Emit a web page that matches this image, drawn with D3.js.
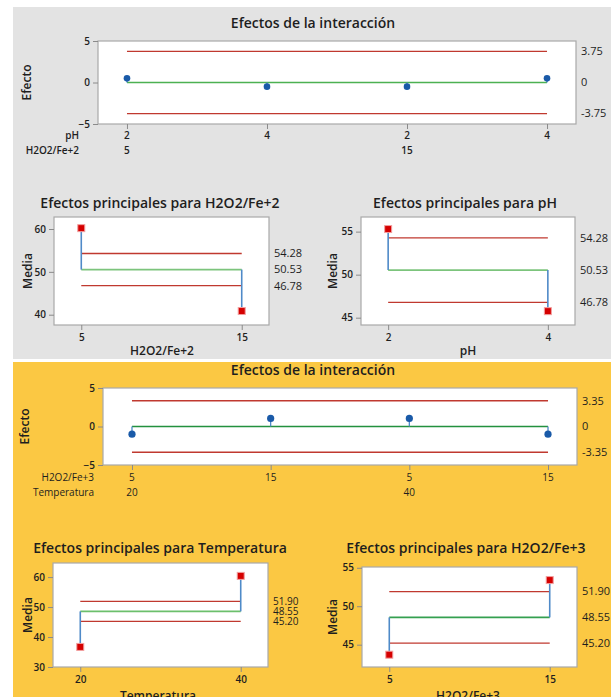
<!DOCTYPE html>
<html>
<head>
<meta charset="utf-8">
<script src="https://cdn.jsdelivr.net/npm/d3@7"></script>
<style>
  body { margin: 0; background: #ffffff; }
  svg { display: block; }
  text { font-family: "Open Sans", "Noto Sans", sans-serif; fill: #1e1e1e; }
</style>
</head>
<body>
<svg id="chart" width="611" height="697"></svg>
<script>
// ---------- data ----------
// Interaction effects, first design (pH x H2O2/Fe+2)
const interA_rowNames = ["pH", "H2O2/Fe+2"];
const interA_pH = ["2", "4", "2", "4"];
const interA_H2O2 = ["5", "", "15", ""];
const interA_effects = [0.5, -0.5, -0.5, 0.5];
const interA_limits = [3.75, 0, -3.75];
const interA_limitLabels = ["3.75", "0", "-3.75"];

// Interaction effects, second design (H2O2/Fe+3 x Temperatura)
const interB_rowNames = ["H2O2/Fe+3", "Temperatura"];
const interB_H2O2 = ["5", "15", "5", "15"];
const interB_Temp = ["20", "", "40", ""];
const interB_effects = [-1.0, 1.05, 1.05, -1.0];
const interB_limits = [3.35, 0, -3.35];
const interB_limitLabels = ["3.35", "0", "-3.35"];

const effectTicks = [-5, 0, 5];

// Main effects, first design
const meanLinesA = [54.28, 50.53, 46.78];
const meanLabelsA = ["54.28", "50.53", "46.78"];
const h2o2Fe2_levels = ["5", "15"];
const h2o2Fe2_means = [60.2, 40.86];
const h2o2Fe2_ticks = [40, 50, 60];
const pH_levels = ["2", "4"];
const pH_means = [55.3, 45.76];
const pH_ticks = [45, 50, 55];

// Main effects, second design
const meanLinesB = [51.90, 48.55, 45.20];
const meanLabelsB = ["51.90", "48.55", "45.20"];
const temp_levels = ["20", "40"];
const temp_means = [36.7, 60.4];
const temp_ticks = [30, 40, 50, 60];
const h2o2Fe3_levels = ["5", "15"];
const h2o2Fe3_means = [43.7, 53.4];
const h2o2Fe3_ticks = [45, 50, 55];

// ---------- drawing ----------
const svg = d3.select("#chart");
const RED = "#c0392f", BLUE_PT = "#1a5aa8", STEM = "#4f8ac8", SQ = "#d50000";

// section backgrounds
svg.append("rect").attr("x", 13).attr("y", 7).attr("width", 598).attr("height", 352).attr("fill", "#e3e3e3");
svg.append("rect").attr("x", 13).attr("y", 362).attr("width", 598).attr("height", 335).attr("fill", "#fbc843");

function yTitle(g, label, x, y) {
  g.append("text")
    .attr("transform", `translate(${x},${y}) rotate(-90)`)
    .attr("text-anchor", "middle").attr("dy", "0.35em")
    .attr("font-size", 12).attr("font-weight", 600)
    .text(label);
}

function drawInteraction(cfg) {
  const g = svg.append("g");
  const b = cfg.box;
  g.append("text").attr("x", cfg.titleX).attr("y", cfg.titleY)
    .attr("text-anchor", "middle").attr("font-size", 14).attr("font-weight", 600)
    .text("Efectos de la interacción");
  g.append("rect").attr("x", b.x0).attr("y", b.y0).attr("width", b.x1 - b.x0).attr("height", b.y1 - b.y0)
    .attr("fill", "#fff").attr("stroke", "#a9a9a9").attr("stroke-width", 1.2);

  const x = d3.scalePoint().domain(d3.range(cfg.effects.length)).range([b.x0, b.x1]).padding(cfg.pad);
  const y = d3.scaleLinear().domain([-5, 5]).range([b.y1, b.y0]);

  // left axis
  const ya = g.append("g").attr("transform", `translate(${b.x0},0)`)
    .call(d3.axisLeft(y).tickValues(effectTicks).tickSize(5).tickPadding(3).tickFormat(d3.format("d")));
  ya.select(".domain").remove();
  ya.selectAll("line").attr("stroke", "#8a8a8a");
  ya.selectAll("text").attr("font-size", 10).attr("font-weight", 600).attr("fill", "#1e1e1e").attr("font-family", null);

  // bottom ticks at each point
  const xa = g.append("g").attr("transform", `translate(0,${b.y1})`)
    .call(d3.axisBottom(x).tickSize(5).tickFormat(""));
  xa.select(".domain").remove();
  xa.selectAll("line").attr("stroke", "#8a8a8a");

  const xs = x.domain().map(i => x(i));
  const xL = d3.min(xs), xR = d3.max(xs);

  // decision limits and center line
  cfg.limits.forEach((v, i) => {
    g.append("line").attr("x1", xL).attr("x2", xR).attr("y1", y(v)).attr("y2", y(v))
      .attr("stroke", v === 0 ? cfg.green : RED).attr("stroke-width", v === 0 ? 1.5 : 1.4);
    g.append("text").attr("x", b.x1 + 5).attr("y", y(v)).attr("dy", "0.35em")
      .attr("font-size", 11).attr("fill", "#333").text(cfg.limitLabels[i]);
  });

  // stems and points
  g.selectAll(".stem").data(cfg.effects).join("line")
    .attr("x1", (d, i) => x(i)).attr("x2", (d, i) => x(i))
    .attr("y1", y(0)).attr("y2", d => y(d))
    .attr("stroke", STEM).attr("stroke-width", 1.3);
  g.selectAll(".pt").data(cfg.effects).join("circle")
    .attr("cx", (d, i) => x(i)).attr("cy", d => y(d)).attr("r", cfg.r)
    .attr("fill", BLUE_PT);

  // factor level rows under the axis
  cfg.rows.forEach((row, ri) => {
    const yy = cfg.rowY[ri];
    g.append("text").attr("x", cfg.rowNameX).attr("y", yy).attr("text-anchor", "end")
      .attr("font-size", 10).attr("font-weight", cfg.rowWeight).text(cfg.rowNames[ri]);
    row.forEach((lab, i) => {
      if (!lab) return;
      g.append("text").attr("x", x(i)).attr("y", yy).attr("text-anchor", "middle")
        .attr("font-size", 10).attr("font-weight", cfg.rowWeight).text(lab);
    });
  });

  yTitle(g, "Efecto", cfg.yTitleX, (b.y0 + b.y1) / 2);
}

function drawMain(cfg) {
  const g = svg.append("g");
  const b = cfg.box;
  g.append("text").attr("x", cfg.titleX).attr("y", cfg.titleY)
    .attr("text-anchor", "middle").attr("font-size", 14).attr("font-weight", 600)
    .text(cfg.title);
  g.append("rect").attr("x", b.x0).attr("y", b.y0).attr("width", b.x1 - b.x0).attr("height", b.y1 - b.y0)
    .attr("fill", "#fff").attr("stroke", "#a9a9a9").attr("stroke-width", 1.2);

  const x = d3.scalePoint().domain(cfg.levels).range([b.x0, b.x1]).padding(0.17);
  const y = d3.scaleLinear().domain(cfg.yDomain).range([b.y1, b.y0]);

  const ya = g.append("g").attr("transform", `translate(${b.x0},0)`)
    .call(d3.axisLeft(y).tickValues(cfg.ticks).tickSize(5).tickPadding(3).tickFormat(d3.format("d")));
  ya.select(".domain").remove();
  ya.selectAll("line").attr("stroke", "#8a8a8a");
  ya.selectAll("text").attr("font-size", 10).attr("font-weight", 600).attr("fill", "#1e1e1e").attr("font-family", null);

  const xa = g.append("g").attr("transform", `translate(0,${b.y1})`)
    .call(d3.axisBottom(x).tickSize(5).tickPadding(4));
  xa.select(".domain").remove();
  xa.selectAll("line").attr("stroke", "#8a8a8a");
  xa.selectAll("text").attr("font-size", 10).attr("font-weight", 600).attr("fill", "#1e1e1e").attr("font-family", null);

  const x0 = x(cfg.levels[0]), x1 = x(cfg.levels[1]);
  const [up, mid, lo] = cfg.lines;

  [up, lo].forEach(v => g.append("line").attr("x1", x0).attr("x2", x1).attr("y1", y(v)).attr("y2", y(v))
    .attr("stroke", RED).attr("stroke-width", 1.3));
  g.append("line").attr("x1", x0).attr("x2", x1).attr("y1", y(mid)).attr("y2", y(mid))
    .attr("stroke", cfg.green).attr("stroke-width", 1.8);

  cfg.lines.forEach((v, i) => g.append("text").attr("x", b.x1 + 5).attr("y", y(v)).attr("dy", "0.35em")
    .attr("font-size", cfg.labelSize).attr("fill", "#333").text(cfg.lineLabels[i]));

  // stems from the grand mean to each level mean
  g.selectAll(".stem").data(cfg.means).join("line")
    .attr("x1", (d, i) => x(cfg.levels[i])).attr("x2", (d, i) => x(cfg.levels[i]))
    .attr("y1", y(mid)).attr("y2", d => y(d))
    .attr("stroke", STEM).attr("stroke-width", 1.6);
  g.selectAll(".sq").data(cfg.means).join("rect")
    .attr("x", (d, i) => x(cfg.levels[i]) - 3.5).attr("y", d => y(d) - 3.5)
    .attr("width", 7).attr("height", 7)
    .attr("fill", SQ).attr("stroke", "#f2a0a0").attr("stroke-width", 1);

  g.append("text").attr("x", cfg.xTitleX).attr("y", cfg.xTitleY).attr("text-anchor", "middle")
    .attr("font-size", 12).attr("font-weight", 600).text(cfg.xTitle);
  yTitle(g, "Media", cfg.yTitleX, (b.y0 + b.y1) / 2);
}

drawInteraction({
  box: { x0: 98, x1: 576, y0: 41, y1: 124 }, pad: 0.207, r: 3.3,
  titleX: 313, titleY: 28, effects: interA_effects,
  limits: interA_limits, limitLabels: interA_limitLabels, green: "#4cb152",
  rows: [interA_pH, interA_H2O2], rowNames: interA_rowNames, rowY: [139, 154], rowNameX: 79,
  rowWeight: 600, yTitleX: 27
});

drawInteraction({
  box: { x0: 103, x1: 577, y0: 388, y1: 465 }, pad: 0.209, r: 3.6,
  titleX: 313, titleY: 375, effects: interB_effects,
  limits: interB_limits, limitLabels: interB_limitLabels, green: "#23913f",
  rows: [interB_H2O2, interB_Temp], rowNames: interB_rowNames, rowY: [481, 496], rowNameX: 94,
  rowWeight: 400, yTitleX: 25
});

drawMain({
  title: "Efectos principales para H2O2/Fe+2", titleX: 160, titleY: 208,
  box: { x0: 54, x1: 269, y0: 217, y1: 325 }, yDomain: [37.6, 62.8], ticks: h2o2Fe2_ticks,
  levels: h2o2Fe2_levels, means: h2o2Fe2_means, lines: meanLinesA, lineLabels: meanLabelsA, labelSize: 11,
  green: "#7cc47c", xTitle: "H2O2/Fe+2", xTitleX: 162, xTitleY: 355, yTitleX: 28
});

drawMain({
  title: "Efectos principales para pH", titleX: 465, titleY: 208,
  box: { x0: 361, x1: 575, y0: 217, y1: 325 }, yDomain: [44.15, 56.7], ticks: pH_ticks,
  levels: pH_levels, means: pH_means, lines: meanLinesA, lineLabels: meanLabelsA, labelSize: 11,
  green: "#7cc47c", xTitle: "pH", xTitleX: 468, xTitleY: 355, yTitleX: 333
});

drawMain({
  title: "Efectos principales para Temperatura", titleX: 160, titleY: 553,
  box: { x0: 53, x1: 268, y0: 563, y1: 667 }, yDomain: [30, 64.7], ticks: temp_ticks,
  levels: temp_levels, means: temp_means, lines: meanLinesB, lineLabels: meanLabelsB, labelSize: 10,
  green: "#6cbf6c", xTitle: "Temperatura", xTitleX: 158, xTitleY: 700, yTitleX: 28
});

drawMain({
  title: "Efectos principales para H2O2/Fe+3", titleX: 466, titleY: 553,
  box: { x0: 362, x1: 577, y0: 567, y1: 667 }, yDomain: [42.1, 55.1], ticks: h2o2Fe3_ticks,
  levels: h2o2Fe3_levels, means: h2o2Fe3_means, lines: meanLinesB, lineLabels: meanLabelsB, labelSize: 11,
  green: "#35a050", xTitle: "H2O2/Fe+3", xTitleX: 468, xTitleY: 700, yTitleX: 333
});
</script>
</body>
</html>
